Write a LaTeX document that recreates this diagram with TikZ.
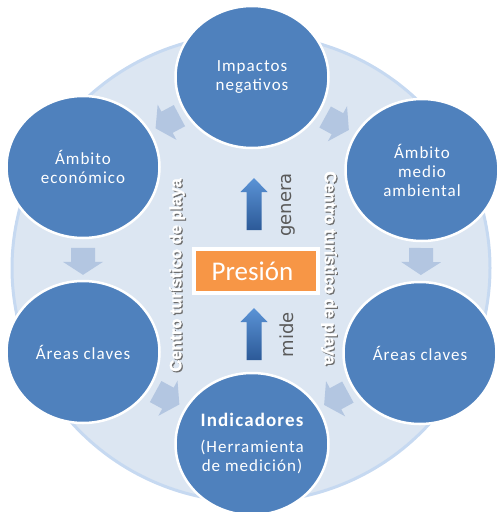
\documentclass[tikz,border=0pt]{standalone}
\usepackage{fontspec}
\setmainfont{Carlito}
\newfontfamily\circfont[LetterSpace=6]{Carlito}
\newfontfamily\sidefont[FakeBold=1.6]{Liberation Sans Bold}
\newfontfamily\dejasans{DejaVu Sans}
\usetikzlibrary{shapes.geometric,calc}
\definecolor{ringfill}{HTML}{DCE6F2}
\definecolor{ringedge}{HTML}{C6D9F1}
\definecolor{circblue}{HTML}{4F81BD}
\definecolor{pale}{HTML}{B3C6E1}
\definecolor{orng}{HTML}{F79646}
\definecolor{txtgray}{HTML}{595959}
\definecolor{shgray}{HTML}{6F6F6F}
\definecolor{arrtop}{HTML}{5B93D6}
\definecolor{arrbot}{HTML}{2C5A98}
\pgfdeclarelayer{ringlayer}
\pgfdeclarelayer{arrowlayer}
\pgfsetlayers{ringlayer,arrowlayer,main}
\tikzset{
  bubble/.style={ellipse, fill=circblue, draw=white, line width=2.5pt,
    minimum width=153pt, minimum height=142pt, inner sep=0pt, text=white,
    align=center, font=\circfont\fontsize{17}{19}\selectfont},
  palearrow/.pic={\fill[pale] (-13.5,-12) -- (0.5,-12) -- (0.5,-20) -- (13.5,0)
    -- (0.5,20) -- (0.5,12) -- (-13.5,12) -- cycle;},
  sidetext/.style={font=\sidefont\fontsize{16.5}{16.5}\selectfont, inner sep=0pt},
  verbtext/.style={font=\dejasans\fontsize{18}{18}\selectfont, text=txtgray, inner sep=0pt, rotate=90},
  bluearrow/.style={top color=arrtop, bottom color=arrbot}
}
\begin{document}
\begin{tikzpicture}[x=1pt,y=-1pt]
\useasboundingbox (0,0) rectangle (496,512);
\begin{pgfonlayer}{ringlayer}
\node[ellipse, fill=ringfill, draw=ringedge, line width=3pt, minimum width=478pt,
  minimum height=468pt, inner sep=0pt] (ring) at (251,268) {};
\end{pgfonlayer}

\node[bubble] (top) at (252,77) {Impactos\\negativos};
\node[bubble] (lu) at (83,167) {Ámbito\\económico};
\node[bubble] (ru) at (422,170) {Ámbito\\medio\\ambiental};
\node[bubble] (ll) at (83,352) {Áreas claves};
\node[bubble] (rl) at (420,353) {Áreas claves};
\node[bubble] (bot) at (252,444) {{\bfseries\fontsize{19}{21}\selectfont Indicadores}\\[7pt](Herramienta\\de medición)};

\begin{pgfonlayer}{arrowlayer}
\path (top.center) -- pic[pos=0.5, sloped, allow upside down] {palearrow} (lu.center);
\path (top.center) -- pic[pos=0.5, sloped, allow upside down] {palearrow} (ru.center);
\path (lu.center) -- pic[pos=0.51, sloped, allow upside down] {palearrow} (ll.center);
\path (ru.center) -- pic[pos=0.5, sloped, allow upside down] {palearrow} (rl.center);
\path (ll.center) -- pic[pos=0.5, sloped, allow upside down] {palearrow} (bot.center);
\path (rl.center) -- pic[pos=0.5, sloped, allow upside down] {palearrow} (bot.center);
\end{pgfonlayer}

\node[fill=orng, draw=white, line width=3.5pt, minimum width=124pt, minimum height=44pt,
  inner sep=0pt, text=white, font=\fontsize{27}{27}\selectfont] (pres) at (256,271) {\hspace*{-7pt}Presión};

\shade[bluearrow] (246.5,230) -- (246.5,192) -- (240.5,192) -- (254,178)
  -- (267.5,192) -- (261.5,192) -- (261.5,230) -- cycle;
\shade[bluearrow] (246.5,360) -- (246.5,322) -- (240.5,322) -- (254,308)
  -- (267.5,322) -- (261.5,322) -- (261.5,360) -- cycle;

\node[verbtext] (genera) at (288,205) {genera};
\node[verbtext] (mide) at (287,335) {mide};

\node[sidetext, rotate=90, text=shgray] (ctlsh) at (178.2,276.2) {Centro turístico de playa};
\node[sidetext, rotate=90, text=white] (ctl) at (177,275) {Centro turístico de playa};
\node[sidetext, rotate=-90, text=shgray] (ctrsh) at (330.2,269.2) {Centro turístico de playa};
\node[sidetext, rotate=-90, text=white] (ctr) at (329,268) {Centro turístico de playa};
\end{tikzpicture}
\end{document}
